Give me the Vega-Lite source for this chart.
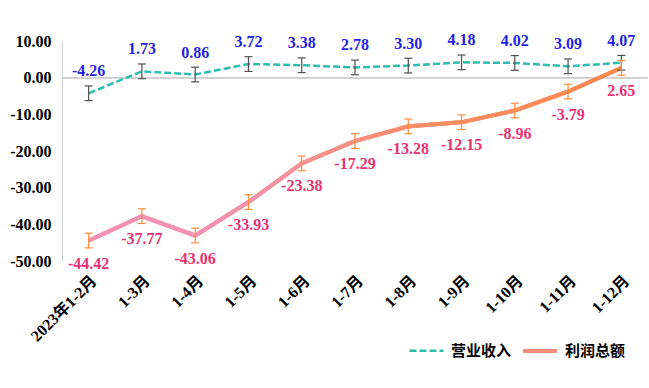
{
  "$schema": "https://vega.github.io/schema/vega-lite/v6.json",
  "autosize": {"type": "none"},
  "padding": {"left": 62, "top": 41, "right": 1, "bottom": 127},
  "width": 586,
  "height": 220,
  "background": "white",
  "config": {
    "view": {"stroke": null},
    "locale": {"number": {"decimal": ".", "thousands": ",", "grouping": [3], "currency": ["$", ""], "minus": "-"}}
  },
  "data": {
    "values": [
      {"month": "2023年1-2月", "series": "营业收入", "value": -4.26, "err": 2},
      {"month": "1-3月", "series": "营业收入", "value": 1.73, "err": 2},
      {"month": "1-4月", "series": "营业收入", "value": 0.86, "err": 2},
      {"month": "1-5月", "series": "营业收入", "value": 3.72, "err": 2},
      {"month": "1-6月", "series": "营业收入", "value": 3.38, "err": 2},
      {"month": "1-7月", "series": "营业收入", "value": 2.78, "err": 2},
      {"month": "1-8月", "series": "营业收入", "value": 3.30, "err": 2},
      {"month": "1-9月", "series": "营业收入", "value": 4.18, "err": 2},
      {"month": "1-10月", "series": "营业收入", "value": 4.02, "err": 2},
      {"month": "1-11月", "series": "营业收入", "value": 3.09, "err": 2},
      {"month": "1-12月", "series": "营业收入", "value": 4.07, "err": 2},
      {"month": "2023年1-2月", "series": "利润总额", "value": -44.42, "err": 2},
      {"month": "1-3月", "series": "利润总额", "value": -37.77, "err": 2},
      {"month": "1-4月", "series": "利润总额", "value": -43.06, "err": 2},
      {"month": "1-5月", "series": "利润总额", "value": -33.93, "err": 2},
      {"month": "1-6月", "series": "利润总额", "value": -23.38, "err": 2},
      {"month": "1-7月", "series": "利润总额", "value": -17.29, "err": 2},
      {"month": "1-8月", "series": "利润总额", "value": -13.28, "err": 2},
      {"month": "1-9月", "series": "利润总额", "value": -12.15, "err": 2},
      {"month": "1-10月", "series": "利润总额", "value": -8.96, "err": 2},
      {"month": "1-11月", "series": "利润总额", "value": -3.79, "err": 2},
      {"month": "1-12月", "series": "利润总额", "value": 2.65, "err": 2}
    ]
  },
  "encoding": {
    "x": {
      "field": "month", "type": "ordinal", "sort": null,
      "scale": {"type": "point", "padding": 0.5},
      "axis": {
        "title": null, "domain": false, "ticks": false, "labelAngle": -45,
        "labelAlign": "right", "labelBaseline": "middle", "labelPadding": 17, "labelOffset": 5,
        "labelFont": "'Liberation Serif', 'Noto Sans CJK SC', serif", "labelFontSize": 16, "labelFontWeight": "bold",
        "labelColor": "#000000"
      }
    },
    "y": {
      "field": "value", "type": "quantitative",
      "scale": {"domain": [-50, 10], "nice": false, "zero": false},
      "axis": {
        "title": null, "values": [-50, -40, -30, -20, -10, 0, 10], "format": ".2f",
        "grid": false, "ticks": false, "domainColor": "#D0D0D0", "labelPadding": 11,
        "labelFont": "Liberation Serif", "labelFontSize": 16, "labelFontWeight": "bold",
        "labelColor": "#000000"
      }
    }
  },
  "layer": [
    {
      "mark": {"type": "rule", "color": "#D0D0D0", "strokeWidth": 1},
      "encoding": {"y": {"datum": 0}, "x": null}
    },
    {
      "mark": {"type": "line"},
      "encoding": {
        "color": {
          "field": "series", "type": "nominal",
          "scale": {"domain": ["营业收入", "利润总额"], "range": ["#2DBDAE", "#FA8C7A"]},
          "legend": {
            "title": null, "orient": "none", "legendX": 346, "legendY": 291, "direction": "horizontal",
            "symbolType": "stroke", "symbolSize": 1156, "symbolStrokeWidth": 3,
            "labelFont": "Noto Sans CJK SC", "labelFontSize": 15, "labelFontWeight": "bold",
            "labelColor": "#000000", "labelOffset": 6, "columnPadding": 3
          }
        },
        "strokeDash": {
          "field": "series", "type": "nominal",
          "scale": {"domain": ["营业收入", "利润总额"], "range": [[7, 3], [1, 0]]}
        },
        "strokeWidth": {
          "field": "series", "type": "nominal",
          "scale": {"domain": ["营业收入", "利润总额"], "range": [2.5, 4]},
          "legend": null
        }
      }
    },
    {
      "transform": [{"filter": "datum.series === '利润总额'"}],
      "mark": {
        "type": "line", "strokeWidth": 4.2,
        "color": {"gradient": "linear", "x1": 0, "x2": 1, "y1": 0, "y2": 0,
          "stops": [
            {"offset": 0, "color": "#F290B8"},
            {"offset": 0.3, "color": "#F392AE"},
            {"offset": 0.5, "color": "#F8907F"},
            {"offset": 0.65, "color": "#FD8C62"},
            {"offset": 1, "color": "#FF8A4C"}
          ]}
      },
      "encoding": {}
    },
    {
      "transform": [{"filter": "datum.series === '营业收入'"}],
      "mark": {"type": "errorbar", "color": "#505050", "opacity": 1, "thickness": 1.2, "ticks": {"size": 8, "thickness": 1.2}},
      "encoding": {"yError": {"field": "err"}}
    },
    {
      "transform": [{"filter": "datum.series === '利润总额'"}],
      "mark": {"type": "errorbar", "color": "#FF8C3A", "opacity": 1, "thickness": 1.2, "ticks": {"size": 8, "thickness": 1.2}},
      "encoding": {"yError": {"field": "err"}}
    },
    {
      "transform": [{"filter": "datum.series === '营业收入'"}],
      "mark": {"type": "text", "dy": -22, "font": "Liberation Serif", "fontSize": 16, "fontWeight": "bold", "color": "#1F1FE6", "baseline": "middle"},
      "encoding": {"text": {"field": "value", "type": "quantitative", "format": ".2f"}}
    },
    {
      "transform": [{"filter": "datum.series === '利润总额'"}],
      "mark": {"type": "text", "dy": 23, "font": "Liberation Serif", "fontSize": 16, "fontWeight": "bold", "color": "#E8336F", "baseline": "middle"},
      "encoding": {"text": {"field": "value", "type": "quantitative", "format": ".2f"}}
    }
  ]
}
